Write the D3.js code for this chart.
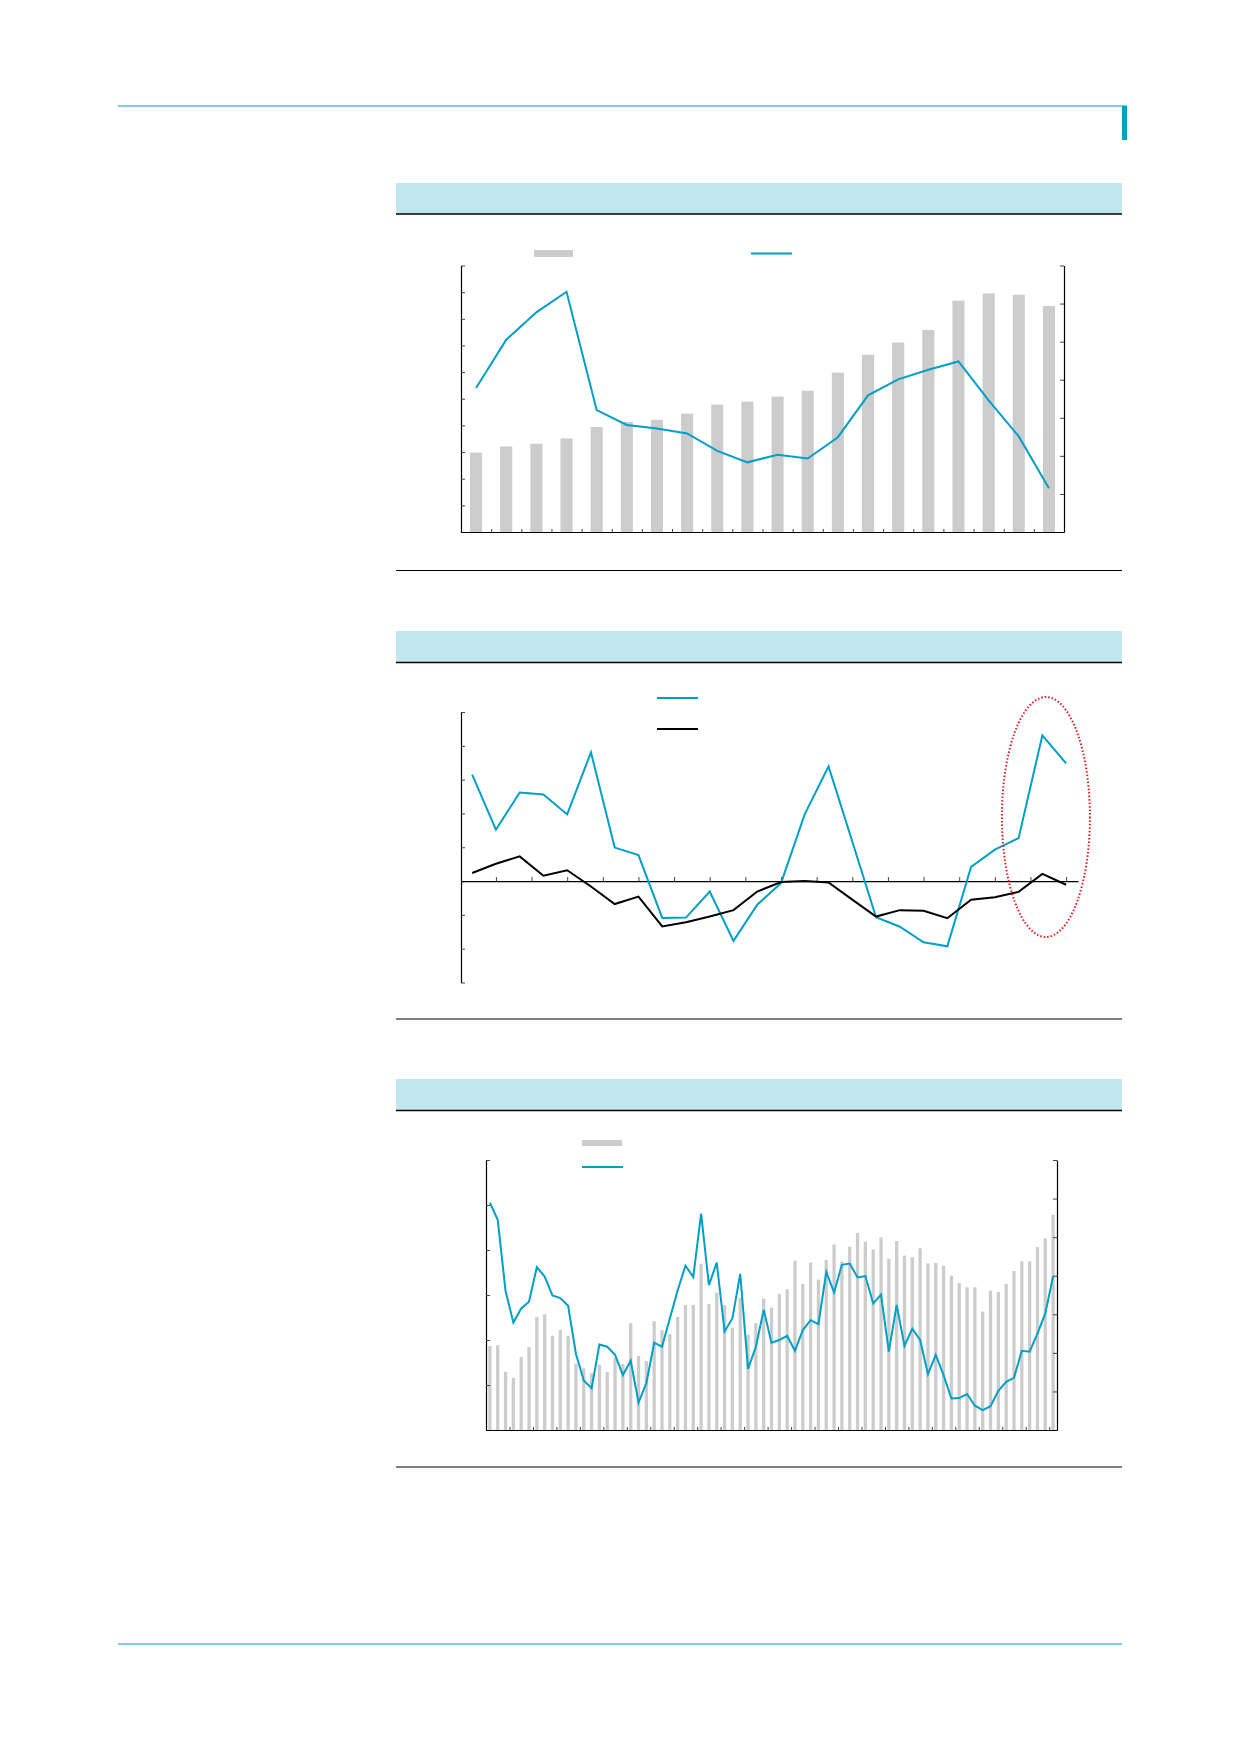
<!DOCTYPE html>
<html>
<head>
<meta charset="utf-8">
<script src="https://d3js.org/d3.v7.min.js"></script>
<style>
  body { margin: 0; background: #fff; }
  svg { display: block; }
</style>
</head>
<body>
<script>
// ---- chart 1: annual bars (left axis) + line (right axis)
const bars1 = [2.98, 3.21, 3.31, 3.51, 3.94, 4.13, 4.21, 4.44, 4.78, 4.89,
               5.08, 5.30, 5.98, 6.65, 7.11, 7.58, 8.68, 8.95, 8.90, 8.48];
const line1 = [3.78, 5.05, 5.77, 6.31, 3.20, 2.81, 2.72, 2.59, 2.13, 1.83,
               2.03, 1.93, 2.49, 3.59, 4.01, 4.26, 4.48, 3.46, 2.51, 1.15];
const leftTicks1 = [0, 1, 2, 3, 4, 5, 6, 7, 8, 9, 10];
const rightTicks1 = [0, 1, 2, 3, 4, 5, 6, 7];

// ---- chart 2: two lines around zero
const blue2 = [3.15, 1.52, 2.62, 2.56, 1.97, 3.81, 0.99, 0.77, -1.09, -1.08,
               -0.31, -1.77, -0.70, -0.06, 1.98, 3.39, 1.17, -1.07, -1.35, -1.81,
               -1.93, 0.42, 0.93, 1.27, 4.31, 3.48];
const black2 = [0.24, 0.51, 0.73, 0.16, 0.32, -0.16, -0.68, -0.46, -1.34, -1.22,
                -1.05, -0.86, -0.31, -0.03, 0.00, -0.04, -0.55, -1.05, -0.86, -0.88,
                -1.10, -0.55, -0.48, -0.32, 0.21, -0.11];
const yTicks2 = [-3, -2, -1, 0, 1, 2, 3, 4, 5];
const xTicks2 = [1, 2.5, 4, 5.5, 7, 8.5, 10, 11.5, 13, 14.5, 16, 17.5, 19, 20.5, 22, 23.5, 25];

// ---- chart 3: monthly bars (right axis) + line (left axis)
const bars3 = [2.18, 2.20, 1.51, 1.35, 1.89, 2.15, 2.93, 3.00, 2.44, 2.59,
               2.44, 1.72, 1.60, 1.47, 1.69, 1.50, 1.86, 1.71, 2.77, 1.92,
               1.79, 2.82, 2.59, 2.49, 2.93, 3.24, 3.24, 4.31, 3.27, 3.56,
               3.24, 2.65, 3.43, 2.47, 2.77, 3.41, 3.17, 3.53, 3.65, 4.39,
               3.79, 4.34, 3.90, 4.41, 4.81, 4.37, 4.75, 5.11, 4.88, 4.68,
               4.99, 4.44, 4.90, 4.52, 4.48, 4.71, 4.32, 4.33, 4.26, 4.00,
               3.81, 3.70, 3.70, 3.07, 3.61, 3.58, 3.79, 4.12, 4.37, 4.37,
               4.74, 4.97, 5.58];
const line3 = [5.05, 4.67, 3.09, 2.39, 2.70, 2.85, 3.62, 3.41, 2.99, 2.93,
               2.76, 1.69, 1.10, 0.93, 1.90, 1.85, 1.67, 1.22, 1.54, 0.61,
               1.04, 1.94, 1.85, 2.48, 3.10, 3.65, 3.40, 4.81, 3.22, 3.72,
               2.19, 2.48, 3.47, 1.36, 1.85, 2.67, 1.94, 2.00, 2.09, 1.76,
               2.22, 2.44, 2.35, 3.51, 3.06, 3.67, 3.70, 3.39, 3.42, 2.81,
               3.01, 1.74, 2.78, 1.87, 2.25, 2.00, 1.24, 1.67, 1.22, 0.70,
               0.71, 0.80, 0.54, 0.44, 0.53, 0.87, 1.07, 1.16, 1.76, 1.74,
               2.14, 2.59, 3.41];
const leftTicks3 = [0, 1, 2, 3, 4, 5, 6];
const rightTicks3 = [0, 1, 2, 3, 4, 5, 6, 7];

const BLUE = "#009fc7";
const GREY = "#cccccc";
const BAND = "#c0e7f0";

const svg = d3.select("body").append("svg")
    .attr("width", 1240).attr("height", 1754);

// page frame
svg.append("line").attr("x1", 118).attr("x2", 1122).attr("y1", 106).attr("y2", 106)
    .attr("stroke", BLUE).attr("stroke-width", 1.2);
svg.append("rect").attr("x", 1122).attr("y", 105.5).attr("width", 5).attr("height", 34.5)
    .attr("fill", BLUE);
svg.append("line").attr("x1", 118).attr("x2", 1122).attr("y1", 1644).attr("y2", 1644)
    .attr("stroke", BLUE).attr("stroke-width", 1.2);

// panel headers and closing rules
[[183, 214, 570.5], [631, 662.5, 1019], [1079, 1110.5, 1467]].forEach(([top, bottom, rule]) => {
    svg.append("rect").attr("x", 396).attr("y", top).attr("width", 726).attr("height", bottom - top)
        .attr("fill", BAND);
    svg.append("line").attr("x1", 396).attr("x2", 1122).attr("y1", bottom).attr("y2", bottom)
        .attr("stroke", "#000").attr("stroke-width", 1.5);
    svg.append("line").attr("x1", 396).attr("x2", 1122).attr("y1", rule).attr("y2", rule)
        .attr("stroke", "#000").attr("stroke-width", 1);
});

const styleAxis = g => {
    g.selectAll(".domain").attr("stroke", "#000").attr("stroke-width", 1.2);
    g.selectAll(".tick line").attr("stroke", "#444").attr("stroke-width", 1);
    g.selectAll("text").remove();
};

// ================= chart 1
{
    const L = 461, R = 1064, T = 265.5, B = 532;
    const x = d3.scaleBand().domain(d3.range(bars1.length)).range([L, R]).paddingInner(0.6).paddingOuter(0.3);
    const xb = d3.scaleLinear().domain([0, bars1.length]).range([L, R]);
    const yL = d3.scaleLinear().domain([0, 10]).range([B, T]);
    const yR = d3.scaleLinear().domain([0, 7]).range([B, T]);
    const g = svg.append("g");

    g.selectAll("rect.bar").data(bars1).join("rect").attr("class", "bar")
        .attr("x", (d, i) => x(i)).attr("width", x.bandwidth())
        .attr("y", d => yL(d)).attr("height", d => B - yL(d))
        .attr("fill", GREY);

    g.append("g").attr("transform", `translate(${L},0)`)
        .call(d3.axisRight(yL).tickValues(leftTicks1).tickSize(4).tickSizeOuter(0).tickFormat(""))
        .call(styleAxis);
    g.append("g").attr("transform", `translate(${R},0)`)
        .call(d3.axisLeft(yR).tickValues(rightTicks1).tickSize(4).tickSizeOuter(0).tickFormat(""))
        .call(styleAxis);
    g.append("g").attr("transform", `translate(0,${B})`)
        .call(d3.axisTop(xb).tickValues(d3.range(1, bars1.length)).tickSize(3).tickSizeOuter(0).tickFormat(""))
        .call(styleAxis);

    g.append("path").datum(line1)
        .attr("d", d3.line().x((d, i) => x(i) + x.bandwidth() / 2).y(d => yR(d)))
        .attr("fill", "none").attr("stroke", BLUE).attr("stroke-width", 2);

    // legend
    g.append("rect").attr("x", 534).attr("y", 250).attr("width", 39).attr("height", 7).attr("fill", GREY);
    g.append("line").attr("x1", 751).attr("x2", 792).attr("y1", 253.5).attr("y2", 253.5)
        .attr("stroke", BLUE).attr("stroke-width", 2);
}

// ================= chart 2
{
    const L = 461, R = 1078, T = 712, B = 982.5;
    const x = d3.scaleLinear().domain([-0.47, blue2.length - 0.5]).range([L, R]);
    const y = d3.scaleLinear().domain([-3, 5]).range([B, T]);
    const g = svg.append("g");

    g.append("g").attr("transform", `translate(${L},0)`)
        .call(d3.axisRight(y).tickValues(yTicks2).tickSize(4).tickSizeOuter(0).tickFormat(""))
        .call(styleAxis);
    g.append("g").attr("transform", `translate(0,${y(0)})`)
        .call(d3.axisTop(x).tickValues(xTicks2).tickSize(4).tickSizeOuter(0).tickFormat(""))
        .call(styleAxis);

    const line = d3.line().x((d, i) => x(i)).y(d => y(d));
    g.append("path").datum(blue2).attr("d", line)
        .attr("fill", "none").attr("stroke", BLUE).attr("stroke-width", 2);
    g.append("path").datum(black2).attr("d", line)
        .attr("fill", "none").attr("stroke", "#000").attr("stroke-width", 2);

    // highlight ring around the last points
    g.append("ellipse").attr("cx", x(24.15)).attr("cy", 817).attr("rx", 44).attr("ry", 120)
        .attr("fill", "none").attr("stroke", "#e41a1a").attr("stroke-width", 2)
        .attr("stroke-dasharray", "1.5 2");

    // legend
    g.append("line").attr("x1", 657).attr("x2", 698).attr("y1", 698).attr("y2", 698)
        .attr("stroke", BLUE).attr("stroke-width", 2);
    g.append("line").attr("x1", 657).attr("x2", 698).attr("y1", 729).attr("y2", 729)
        .attr("stroke", "#000").attr("stroke-width", 2);
}

// ================= chart 3
{
    const L = 486, R = 1057, T = 1160, B = 1430;
    const x = d3.scaleBand().domain(d3.range(bars3.length)).range([L, R]).paddingInner(0.58).paddingOuter(0.29);
    const xb = d3.scaleLinear().domain([0, bars3.length]).range([L, R]);
    const yL = d3.scaleLinear().domain([0, 6]).range([B, T]);
    const yR = d3.scaleLinear().domain([0, 7]).range([B, T]);
    const g = svg.append("g");

    g.selectAll("rect.bar").data(bars3).join("rect").attr("class", "bar")
        .attr("x", (d, i) => x(i)).attr("width", x.bandwidth())
        .attr("y", d => yR(d)).attr("height", d => B - yR(d))
        .attr("fill", GREY);

    g.append("g").attr("transform", `translate(${L},0)`)
        .call(d3.axisRight(yL).tickValues(leftTicks3).tickSize(4).tickSizeOuter(0).tickFormat(""))
        .call(styleAxis);
    g.append("g").attr("transform", `translate(${R},0)`)
        .call(d3.axisLeft(yR).tickValues(rightTicks3).tickSize(4).tickSizeOuter(0).tickFormat(""))
        .call(styleAxis);
    g.append("g").attr("transform", `translate(0,${B})`)
        .call(d3.axisTop(xb).tickValues(d3.range(3, bars3.length, 3)).tickSize(3).tickSizeOuter(0).tickFormat(""))
        .call(styleAxis);

    g.append("path").datum(line3)
        .attr("d", d3.line().x((d, i) => x(i) + x.bandwidth() / 2).y(d => yL(d)))
        .attr("fill", "none").attr("stroke", BLUE).attr("stroke-width", 2);

    // legend
    g.append("rect").attr("x", 582).attr("y", 1140).attr("width", 40).attr("height", 6).attr("fill", GREY);
    g.append("line").attr("x1", 582).attr("x2", 623).attr("y1", 1167).attr("y2", 1167)
        .attr("stroke", BLUE).attr("stroke-width", 2);
}
</script>
</body>
</html>
